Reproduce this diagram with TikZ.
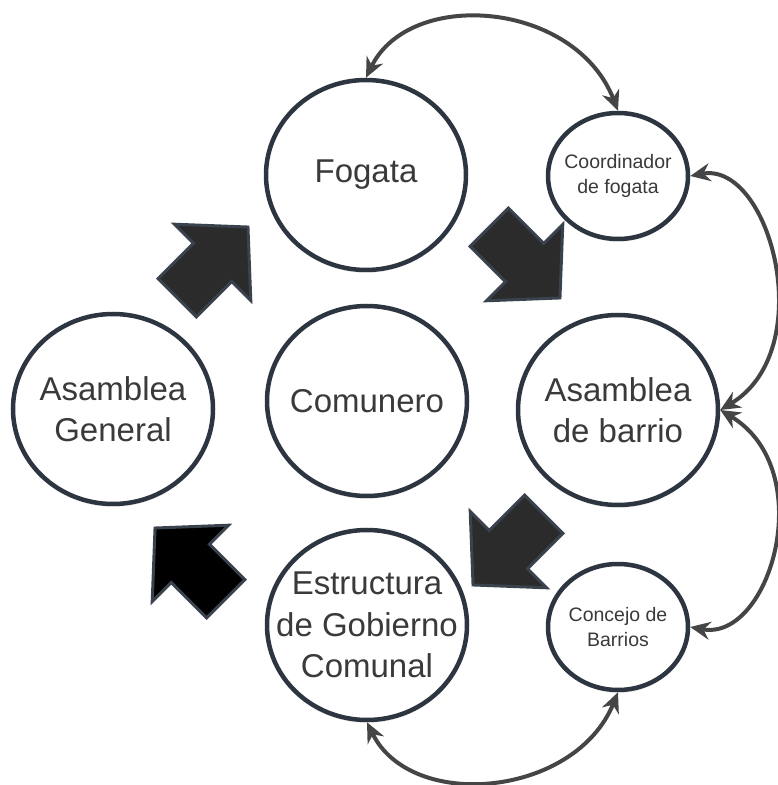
\documentclass[tikz,border=0pt]{standalone}
\usepackage{fontspec}
\setmainfont{Liberation Sans}
\usetikzlibrary{shapes.geometric,arrows.meta,shadows}

\definecolor{ringcol}{HTML}{2D3540}
\definecolor{txtcol}{HTML}{3A3A3A}
\definecolor{linkcol}{HTML}{454545}
\definecolor{padcol}{HTML}{2B2B2B}
\definecolor{edgecol}{HTML}{3A424E}

\tikzset{
  bigcirc/.style={ellipse, draw=ringcol, line width=4.5pt, fill=white,
    minimum width=200pt, minimum height=190pt, inner sep=-50pt, align=center,
    text=txtcol, font=\fontsize{33}{41.5}\selectfont,
    drop shadow={opacity=0.12, shadow xshift=0pt, shadow yshift=-3pt}},
  smallcirc/.style={bigcirc, minimum width=140pt, minimum height=126pt,
    inner sep=-30pt, font=\fontsize{19.5}{25}\selectfont},
  link/.style={draw=linkcol, line width=4pt, <->},
  blockarrow/.style={draw=edgecol, line width=3pt, line join=miter}
}

\begin{document}
\begin{tikzpicture}[x=1pt,y=1pt,>={Stealth[length=20pt,width=18pt]}]
        \useasboundingbox (0,0) rectangle (777,785);

        % draw the circles
        \node[bigcirc] (fogata) at (366,610) {Fogata};
        \node[smallcirc] (coord) at (618,609) {Coordinador\\de fogata};
        \node[bigcirc] (asamgen) at (113,376) {Asamblea\\General};
        \node[bigcirc] (comunero) at (367,384) {Comunero};
        \node[bigcirc] (asambarrio) at (618,375) {Asamblea\\de barrio};
        \node[bigcirc] (estructura) at (367,160) {Estructura\\de Gobierno\\Comunal};
        \node[smallcirc] (concejo) at (618,158) {Concejo de\\Barrios};

        % draw the big block arrows
        \foreach \cx/\cy/\ang/\col in {
            212.6/522.6/45/padcol, 524.6/522.4/-45/padcol,
            508.4/235.4/-135/padcol, 190.4/221.6/135/black}
                \draw[blockarrow, fill=\col, shift={(\cx,\cy)}, rotate=\ang]
                  (-50,27) -- (0,27) -- (0,54) -- (50,0) -- (0,-54) -- (0,-27) -- (-50,-27) -- cycle;

        % draw the links
        \draw[link] (fogata.north) .. controls +(44,90) and +(-43,110) .. (coord.north);
        \draw[link] (coord.east) .. controls +(80,15) and +(100,60) .. (asambarrio.east);
        \draw[link] (asambarrio.east) .. controls +(100,-60) and +(80,-15) .. (concejo.east);
        \draw[link] (estructura.south) .. controls +(44,-90) and +(-43,-105) .. (concejo.south);

\end{tikzpicture}
\end{document}
